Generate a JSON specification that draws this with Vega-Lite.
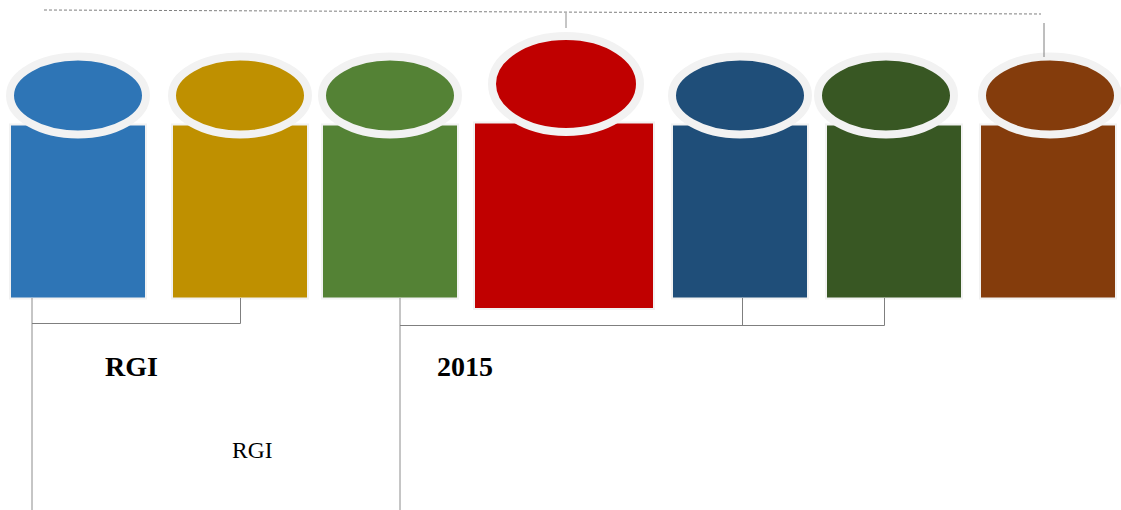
{
 "$schema":"https://vega.github.io/schema/vega-lite/v6.json",
 "width":1121,"height":510,
 "autosize":{"type":"none"},
 "padding":0,
 "background":"white",
 "view":{"stroke":null},
 "datasets":{
  "blocks":[
   {"name":"a","x0":10,"x1":146,"top":124.5,"bottom":298.5,"cx":78,"cy":95.5,"kind":"normal"},
   {"name":"b","x0":172,"x1":308,"top":124.5,"bottom":298.5,"cx":240,"cy":95.5,"kind":"normal"},
   {"name":"c","x0":322,"x1":458,"top":124.5,"bottom":298.5,"cx":390,"cy":95.5,"kind":"normal"},
   {"name":"d","x0":474,"x1":654,"top":122.5,"bottom":309,"cx":566,"cy":84,"kind":"large"},
   {"name":"e","x0":672,"x1":808,"top":124.5,"bottom":298.5,"cx":740,"cy":95.5,"kind":"normal"},
   {"name":"f","x0":826,"x1":962,"top":124.5,"bottom":298.5,"cx":886,"cy":95.5,"kind":"normal"},
   {"name":"g","x0":980,"x1":1116,"top":124.5,"bottom":298.5,"cx":1050,"cy":95.5,"kind":"normal"}
  ],
  "links":[
   {"x":32,"x2":32,"y":298,"y2":510,"tone":"light"},
   {"x":400,"x2":400,"y":298,"y2":510,"tone":"light"},
   {"x":32,"x2":240.5,"y":323.5,"y2":323.5,"tone":"dark"},
   {"x":240.5,"x2":240.5,"y":298,"y2":323.5,"tone":"dark"},
   {"x":400,"x2":884.5,"y":325.5,"y2":325.5,"tone":"dark"},
   {"x":742.5,"x2":742.5,"y":298,"y2":325.5,"tone":"dark"},
   {"x":884.5,"x2":884.5,"y":298,"y2":325.5,"tone":"dark"},
   {"x":566,"x2":566,"y":13,"y2":28,"tone":"light"},
   {"x":1044,"x2":1044,"y":23,"y2":57,"tone":"dark"}
  ],
  "dash":[{"x":44,"x2":1041,"y":10,"y2":14}],
  "labels":[
   {"x":105,"y":376,"label":"RGI","weight":"bold"},
   {"x":437,"y":376,"label":"2015","weight":"bold"},
   {"x":232,"y":458,"label":"RGI","weight":"regular"}
  ]
 },
 "encoding":{},
 "layer":[
  {"data":{"name":"blocks"},
   "mark":{"type":"rect","stroke":"#f2f2f2","strokeWidth":2},
   "encoding":{
    "x":{"field":"x0","type":"quantitative","scale":{"domain":[0,1121],"nice":false,"zero":false},"axis":null},
    "x2":{"field":"x1"},
    "y":{"field":"top","type":"quantitative","scale":{"domain":[510,0],"nice":false,"zero":false},"axis":null},
    "y2":{"field":"bottom"},
    "fill":{"field":"name","type":"nominal","legend":null,"scale":{"domain":["a","b","c","d","e","f","g"],"range":["#2e75b6","#bf9000","#548235","#c00000","#1f4e79","#385723","#843c0c"]}}
   }},
  {"data":{"name":"blocks"},
   "mark":{"type":"point","filled":true,"opacity":1,"stroke":"#f2f2f2","strokeWidth":8},
   "encoding":{
    "x":{"field":"cx","type":"quantitative","scale":{"domain":[0,1121],"nice":false,"zero":false},"axis":null},
    "y":{"field":"cy","type":"quantitative","scale":{"domain":[510,0],"nice":false,"zero":false},"axis":null},
    "fill":{"field":"name","type":"nominal","legend":null,"scale":{"domain":["a","b","c","d","e","f","g"],"range":["#2e75b6","#bf9000","#548235","#c00000","#1f4e79","#385723","#843c0c"]}},
    "shape":{"field":"kind","type":"nominal","legend":null,"scale":{"domain":["normal","large"],"range":["M -1 0 A 1 0.5735 0 1 1 1 0 A 1 0.5735 0 1 1 -1 0 Z","M -1 0 A 1 0.6486 0 1 1 1 0 A 1 0.6486 0 1 1 -1 0 Z"]}},
    "size":{"field":"kind","type":"nominal","legend":null,"scale":{"domain":["normal","large"],"range":[18496,21904]}}
   }},
  {"data":{"name":"links"},
   "mark":{"type":"rule","strokeWidth":1},
   "encoding":{
    "x":{"field":"x","type":"quantitative","scale":{"domain":[0,1121],"nice":false,"zero":false},"axis":null},
    "x2":{"field":"x2"},
    "y":{"field":"y","type":"quantitative","scale":{"domain":[510,0],"nice":false,"zero":false},"axis":null},
    "y2":{"field":"y2"},
    "color":{"field":"tone","type":"nominal","legend":null,"scale":{"domain":["light","dark"],"range":["#8c8c8c","#7f7f7f"]}}
   }},
  {"data":{"name":"dash"},
   "mark":{"type":"rule","strokeWidth":1,"strokeDash":[3,2],"color":"#7f7f7f"},
   "encoding":{
    "x":{"field":"x","type":"quantitative","scale":{"domain":[0,1121],"nice":false,"zero":false},"axis":null},
    "x2":{"field":"x2"},
    "y":{"field":"y","type":"quantitative","scale":{"domain":[510,0],"nice":false,"zero":false},"axis":null},
    "y2":{"field":"y2"}
   }},
  {"data":{"name":"labels"},
   "transform":[{"filter":"datum.weight==='bold'"}],
   "mark":{"type":"text","font":"Liberation Serif","fontSize":28,"fontWeight":"bold","align":"left","baseline":"alphabetic","color":"#000000"},
   "encoding":{
    "x":{"field":"x","type":"quantitative","scale":{"domain":[0,1121],"nice":false,"zero":false},"axis":null},
    "y":{"field":"y","type":"quantitative","scale":{"domain":[510,0],"nice":false,"zero":false},"axis":null},
    "text":{"field":"label"}
   }},
  {"data":{"name":"labels"},
   "transform":[{"filter":"datum.weight==='regular'"}],
   "mark":{"type":"text","font":"Liberation Serif","fontSize":23.5,"align":"left","baseline":"alphabetic","color":"#000000"},
   "encoding":{
    "x":{"field":"x","type":"quantitative","scale":{"domain":[0,1121],"nice":false,"zero":false},"axis":null},
    "y":{"field":"y","type":"quantitative","scale":{"domain":[510,0],"nice":false,"zero":false},"axis":null},
    "text":{"field":"label"}
   }}
 ]
}
